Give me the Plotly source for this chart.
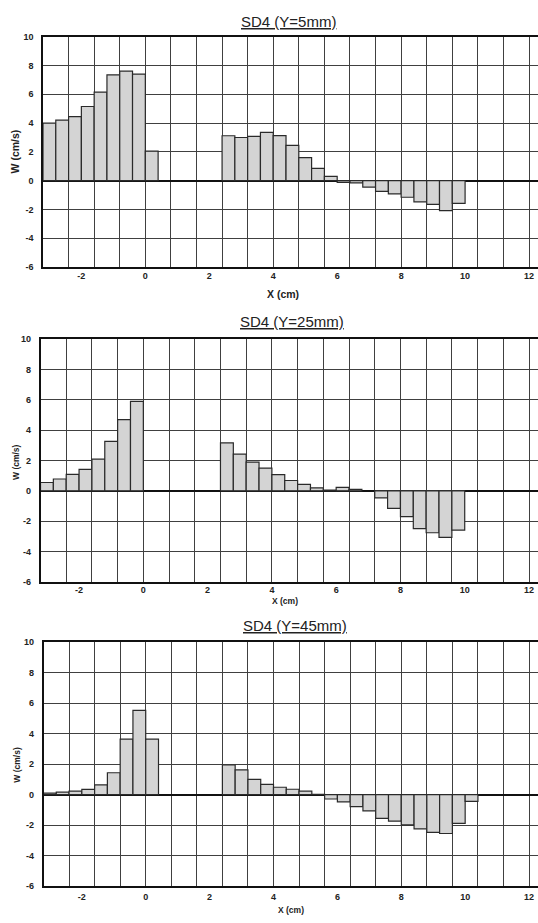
import plotly.graph_objects as go

# ---------------- data ----------------
# bar centres (cm); each bar is 0.4 cm wide
x_y5 = [-3.0, -2.6, -2.2, -1.8, -1.4, -1.0, -0.6, -0.2, 0.2,
        2.6, 3.0, 3.4, 3.8, 4.2, 4.6, 5.0, 5.4, 5.8, 6.2, 6.6, 7.0, 7.4, 7.8, 8.2, 8.6, 9.0, 9.4, 9.8]
w_y5 = [4.0, 4.2, 4.45, 5.15, 6.15, 7.35, 7.6, 7.4, 2.05,
        3.12, 3.0, 3.08, 3.35, 3.13, 2.45, 1.6, 0.85, 0.3, -0.12, -0.15, -0.44, -0.74, -0.92, -1.15, -1.47, -1.65, -2.08, -1.58]

x_y25 = [-3.0, -2.6, -2.2, -1.8, -1.4, -1.0, -0.6, -0.2,
         2.6, 3.0, 3.4, 3.8, 4.2, 4.6, 5.0, 5.4, 5.8, 6.2, 6.6, 7.4, 7.8, 8.2, 8.6, 9.0, 9.4, 9.8]
w_y25 = [0.55, 0.78, 1.09, 1.42, 2.09, 3.27, 4.7, 5.9,
         3.16, 2.42, 1.9, 1.5, 1.07, 0.68, 0.43, 0.2, 0.05, 0.22, 0.1, -0.47, -1.16, -1.71, -2.5, -2.77, -3.07, -2.59]

x_y45 = [-3.0, -2.6, -2.2, -1.8, -1.4, -1.0, -0.6, -0.2, 0.2,
         2.6, 3.0, 3.4, 3.8, 4.2, 4.6, 5.0, 5.4, 5.8, 6.2, 6.6, 7.0, 7.4, 7.8, 8.2, 8.6, 9.0, 9.4, 9.8, 10.2]
w_y45 = [0.11, 0.17, 0.24, 0.35, 0.65, 1.44, 3.64, 5.53, 3.64,
         1.96, 1.63, 1.0, 0.68, 0.49, 0.36, 0.23, 0.02, -0.28, -0.47, -0.78, -1.06, -1.55, -1.73, -1.98, -2.24, -2.46, -2.54, -1.87, -0.43]

titles = ["SD4 (Y=5mm)", "SD4 (Y=25mm)", "SD4 (Y=45mm)"]
x_label_vals = [-2, 0, 2, 4, 6, 8, 10, 12]
y_tick_vals = [-6, -4, -2, 0, 2, 4, 6, 8, 10]
bar_width = 0.4

# ---------------- layout helpers ----------------
W, H = 538, 923
FONT = "Liberation Sans"

panels = [
    dict(left=43, top=32, bottom=265, title_xy=(288, 17), xt_xy=(283, 292), yt_xy=(15, 148), tfs=15, afs=10.5, sto=2),
    dict(left=40.5, top=338, bottom=583, title_xy=(292, 320), xt_xy=(285, 603), yt_xy=(16, 462), tfs=15, afs=8.5, sto=1),
    dict(left=43.5, top=644, bottom=891, title_xy=(295, 627), xt_xy=(291, 915), yt_xy=(17, 768), tfs=15, afs=8.5, sto=4),
]
xs = [x_y5, x_y25, x_y45]
ws = [w_y5, w_y25, w_y45]

fig = go.Figure()
layout = dict(
    width=W, height=H, margin=dict(l=0, r=0, t=0, b=0),
    paper_bgcolor="white", plot_bgcolor="white", showlegend=False,
    font=dict(family=FONT, color="#222"),
    annotations=[],
)
X_RANGE = [-3.2, 12.28]

for i, p in enumerate(panels):
    n = i + 1
    xa = "x" if n == 1 else f"x{n}"
    ya = "y" if n == 1 else f"y{n}"
    xkey = "xaxis" if n == 1 else f"xaxis{n}"
    ykey = "yaxis" if n == 1 else f"yaxis{n}"
    lab_n = n + 3
    laba = f"x{lab_n}"
    labkey = f"xaxis{lab_n}"

    fig.add_trace(go.Bar(
        x=xs[i], y=ws[i], width=bar_width, xaxis=xa, yaxis=ya,
        marker=dict(color="#d4d4d4", line=dict(color="#2a2a2a", width=1.2)),
        hoverinfo="x+y",
    ))
    # invisible trace so the labelled overlay axis is drawn
    fig.add_trace(go.Scatter(
        x=xs[i], y=ws[i], xaxis=laba, yaxis=ya, mode="markers",
        marker=dict(opacity=0), hoverinfo="skip",
    ))

    dom_x = [p["left"] / W, 1.0]
    dom_y = [1 - p["bottom"] / H, 1 - p["top"] / H]

    # grid axis (every 0.8 cm)
    layout[xkey] = dict(
        domain=dom_x, range=X_RANGE, anchor=ya,
        tick0=-3.2, dtick=0.8, showticklabels=False, ticks="",
        showgrid=True, gridcolor="#404040", gridwidth=1,
        showline=True, linecolor="#111", linewidth=1.5, mirror=True,
        zeroline=False, fixedrange=True,
    )
    # labelled axis (every 2 cm)
    layout[labkey] = dict(
        overlaying=xa, anchor=ya, side="bottom", range=X_RANGE,
        tickmode="array", tickvals=x_label_vals,
        ticktext=[str(v) for v in x_label_vals],
        tickfont=dict(size=9, family=FONT, weight="bold", color="#222"),
        showgrid=False, showline=False, zeroline=False, ticks="",
        ticklabelstandoff=p["sto"], fixedrange=True,
    )
    layout[ykey] = dict(
        domain=dom_y, range=[-6, 10], anchor=xa,
        tickmode="array", tickvals=y_tick_vals,
        ticktext=[str(v) for v in y_tick_vals],
        tickfont=dict(size=9, family=FONT, weight="bold", color="#222"),
        showgrid=True, gridcolor="#404040", gridwidth=1,
        zeroline=True, zerolinecolor="#111", zerolinewidth=1.6,
        showline=True, linecolor="#111", linewidth=1.5,
        ticks="", ticklabelstandoff=6, fixedrange=True,
    )

    tx, ty = p["title_xy"]
    layout["annotations"].append(dict(
        text=f"<u>{titles[i]}</u>", x=tx / W, y=1 - ty / H, xref="paper", yref="paper",
        showarrow=False, xanchor="center", yanchor="middle",
        font=dict(size=p["tfs"], family=FONT, color="#222"),
    ))
    ax_, ay_ = p["xt_xy"]
    layout["annotations"].append(dict(
        text="X (cm)", x=ax_ / W, y=1 - ay_ / H, xref="paper", yref="paper",
        showarrow=False, xanchor="center", yanchor="middle",
        font=dict(size=p["afs"], family=FONT, weight="bold", color="#222"),
    ))
    wx, wy = p["yt_xy"]
    layout["annotations"].append(dict(
        text="W (cm/s)", x=wx / W, y=1 - wy / H, xref="paper", yref="paper",
        showarrow=False, xanchor="center", yanchor="middle", textangle=-90,
        font=dict(size=p["afs"], family=FONT, weight="bold", color="#222"),
    ))

fig.update_layout(**layout)
fig.write_html("out.html")
